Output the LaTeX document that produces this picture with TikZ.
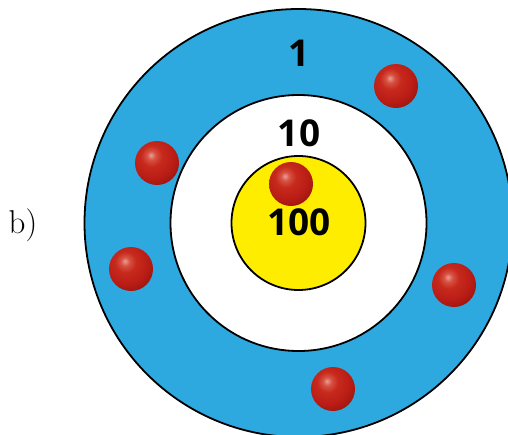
\documentclass[tikz,border=0pt]{standalone}
\usepackage{fontspec}
\newfontfamily\numfont{Open Sans}
\definecolor{ringblue}{RGB}{46,169,224}
\definecolor{coreyellow}{RGB}{255,237,0}
\pgfdeclareradialshading{redball}{\pgfpoint{-7bp}{9bp}}{%
  rgb(0bp)=(0.92,0.62,0.58);
  rgb(5bp)=(0.84,0.32,0.26);
  rgb(12bp)=(0.78,0.16,0.11);
  rgb(25bp)=(0.72,0.11,0.08);
  rgb(38bp)=(0.55,0.07,0.05);
  rgb(50bp)=(0.45,0.05,0.04);
  rgb(100bp)=(0.45,0.05,0.04)}
\begin{document}
\begin{tikzpicture}[x=1pt,y=-1pt,
  ring/.style={circle,draw=black,line width=1.8pt,inner sep=0pt},
  ballnode/.style={circle,minimum size=44pt,inner sep=0pt,shading=redball},
  numlabel/.style={font=\numfont\bfseries\fontsize{37}{37}\selectfont,inner sep=0pt}]
\useasboundingbox (0,0) rectangle (508,434);
\clip (0,0) rectangle (508,434);
\node[ring,fill=ringblue,minimum size=428pt] (outer) at (298.5,223) {};
\node[ring,fill=white,minimum size=256pt] (middle) at (298.5,223) {};
\node[ring,fill=coreyellow,minimum size=134pt] (inner) at (298.5,223) {};
\node[numlabel] (l1) at (299,53) {1};
\node[numlabel] (l10) at (299,133) {10};
\node[numlabel] (l100) at (299,222) {100};
\node[ballnode] (b1) at (396,86) {};
\node[ballnode] (b2) at (157,163) {};
\node[ballnode] (b3) at (131,269) {};
\node[ballnode] (b4) at (454,285) {};
\node[ballnode] (b5) at (333,389) {};
\node[ballnode] (b6) at (291,184) {};
\node[font=\fontsize{33}{33}\selectfont,inner sep=0pt] (lab) at (23,225) {b)};
\end{tikzpicture}
\end{document}
